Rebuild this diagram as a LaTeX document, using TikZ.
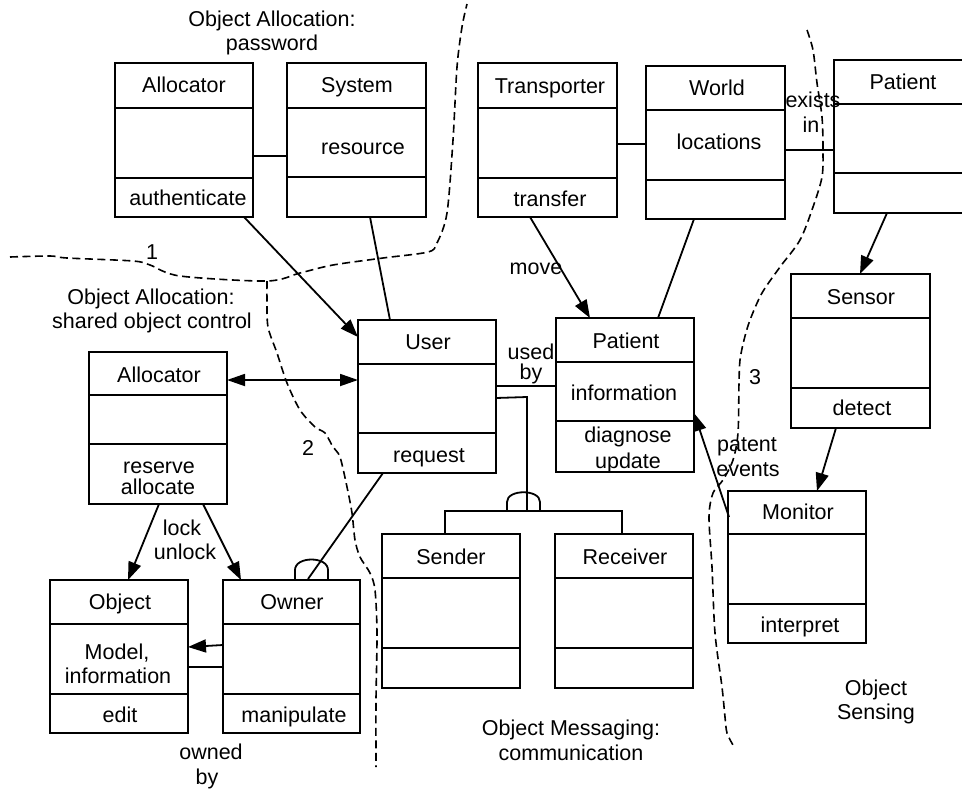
\documentclass[tikz,border=0pt]{standalone}
\usepackage{fontspec}
\setmainfont{Liberation Sans}
\usetikzlibrary{arrows.meta,calc}

\newcommand\lblfont{\fontsize{21.5}{24}\selectfont}

\tikzset{
  classbox/.style={draw, line width=2pt, inner sep=0pt, outer sep=0pt},
  divider/.style={line width=2pt},
  lbl/.style={inner sep=0pt, text height=15pt, text depth=0pt, font=\lblfont},
  link/.style={line width=1.8pt},
  arr/.style={link, -{Triangle[length=18pt,width=13pt]}},
  biarr/.style={link, {Triangle[length=18pt,width=12pt]}-{Triangle[length=18pt,width=12pt]}},
  region/.style={line width=1.6pt, dash pattern=on 8pt off 4.5pt},
}

% class box: name, left, top, right, bottom, first divider, second divider
\newcommand\umlclass[7]{%
  \node[classbox, minimum width={#4-#2}, minimum height={#5-#3}] (#1)
    at ({(#2+#4)/2},{(#3+#5)/2}) {};
  \draw[divider] ($(#1.north west)+(0,#6-#3)$) -- ($(#1.north east)+(0,#6-#3)$);
  \draw[divider] ($(#1.north west)+(0,#7-#3)$) -- ($(#1.north east)+(0,#7-#3)$);
}

\begin{document}
\begin{tikzpicture}[x=1pt,y=-1pt]
\fill[white] (0,0) rectangle (962,788);
\clip (0,0) rectangle (962,788);

% ---------- classes ----------
\umlclass{allocA}{115}{63}{253}{217}{108}{178}
\umlclass{system}{287}{63}{426}{217}{108}{177}
\umlclass{transp}{478}{63}{617}{217}{108}{178}
\umlclass{world}{646}{66}{785}{219}{110}{180}
\umlclass{patA}{834}{60}{973}{213}{104}{173}
\umlclass{sensor}{791}{274}{930}{428}{318}{388}
\umlclass{user}{358}{320}{496}{473}{364}{433}
\umlclass{patB}{556}{318}{694}{472}{362}{421}
\umlclass{allocB}{89}{352}{227}{504}{395}{444}
\umlclass{object}{50}{580}{188}{733}{624}{694}
\umlclass{owner}{223}{580}{360}{733}{624}{694}
\umlclass{sender}{382}{534}{520}{688}{578}{648}
\umlclass{receiver}{555}{534}{693}{688}{578}{648}
\umlclass{monitor}{728}{491}{866}{643}{534}{604}

% ---------- class texts ----------
\node[lbl] (allocAname) at (184,85) {Allocator};
\node[lbl] (allocAop)   at (188,198) {authenticate};
\node[lbl] (systemname) at (357,85) {System};
\node[lbl] (systemattr) at (363,147) {resource};
\node[lbl] (transpname) at (550,86) {Transporter};
\node[lbl] (transpop)   at (550,199) {transfer};
\node[lbl] (worldname)  at (717,88) {World};
\node[lbl] (worldattr)  at (719,142) {locations};
\node[lbl] (patAname)   at (903,82) {Patient};
\node[lbl] (sensorname) at (861,297) {Sensor};
\node[lbl] (sensorop)   at (862,408) {detect};
\node[lbl] (username)   at (428,342) {User};
\node[lbl] (userop)     at (429,455) {request};
\node[lbl] (patBname)   at (626,341) {Patient};
\node[lbl] (patBattr)   at (624,393) {information};
\node[lbl] (patBopA)    at (628,435) {diagnose};
\node[lbl] (patBopB)    at (628,461) {update};
\node[lbl] (allocBname) at (159,375) {Allocator};
\node[lbl] (allocBopA)  at (159,466) {reserve};
\node[lbl] (allocBopB)  at (158,487) {allocate};
\node[lbl] (objectname) at (120,602) {Object};
\node[lbl] (objectattrA) at (117,652) {Model,};
\node[lbl] (objectattrB) at (118,676) {information};
\node[lbl] (objectop)   at (120,715) {edit};
\node[lbl] (ownername)  at (292,602) {Owner};
\node[lbl] (ownerop)    at (294,715) {manipulate};
\node[lbl] (sendername) at (451,557) {Sender};
\node[lbl] (receivername) at (625,557) {Receiver};
\node[lbl] (monitorname) at (798,512) {Monitor};
\node[lbl] (monitorop)  at (800,625) {interpret};

% ---------- connectors ----------
\draw[link] ($(allocA.north east)+(0,93)$) -- ($(system.north west)+(0,93)$);
\draw[link] ($(transp.north east)+(0,81)$) -- ($(world.north west)+(0,78)$);
\draw[link] ($(world.north east)+(0,84)$) -- ($(patA.north west)+(0,90)$);
\draw[arr]  ($(allocA.south west)+(129,0)$) -- ($(user.north west)+(0,17)$);
\draw[link] ($(system.south west)+(83,0)$) -- ($(user.north west)+(32,0)$);
\draw[arr]  ($(transp.south west)+(52,0)$) -- ($(patB.north west)+(34,0)$);
\draw[link] ($(world.south west)+(48,0)$) -- ($(patB.north west)+(102,0)$);
\draw[arr]  ($(patA.south west)+(53,0)$) -- ($(sensor.north west)+(69,0)$);
\draw[arr]  ($(sensor.south west)+(45,0)$) -- ($(monitor.north west)+(89,0)$);
\draw[arr]  ($(monitor.north west)+(1,26)$) -- ($(patB.north east)+(0,95)$);
\draw[biarr] ($(allocB.north east)+(0,28)$) -- ($(user.north west)+(0,60)$);
\draw[link] ($(user.north east)+(0,66)$) -- ($(patB.north west)+(0,68)$);
\draw[arr]  ($(allocB.south west)+(70,0)$) -- ($(object.north west)+(78,0)$);
\draw[arr]  ($(allocB.south west)+(114,0)$) -- ($(owner.north west)+(18,0)$);
\draw[arr]  ($(owner.north west)+(0,65)$) -- ($(object.north east)+(0,67)$);
\draw[link] ($(object.north east)+(0,87)$) -- ($(owner.north west)+(0,87)$);

% generalization of User into Sender and Receiver
\coordinate (genbar) at ($(sender.north west)+(145,-23)$);
\draw[link] ($(user.north east)+(0,78)$) -- ($(user.north east)+(31,77)$) -- (genbar);
\draw[link] ($(sender.north west)+(63,0)$) |- ($(receiver.north west)+(67,-23)$)
  -- ($(receiver.north west)+(67,0)$);
\draw[link] ($(genbar)+(-20,0)$) -- ($(genbar)+(-20,-9)$)
  .. controls ($(genbar)+(-20,-22)$) and ($(genbar)+(13,-22)$) .. ($(genbar)+(13,-9)$)
  -- ($(genbar)+(13,0)$);

% User plays the Owner role
\draw[link] ($(user.south west)+(25,0)$) -- ($(owner.north west)+(85,-1)$);
\draw[link] ($(owner.north west)+(72,0)$) -- ($(owner.north west)+(72,-10)$)
  .. controls ($(owner.north west)+(72,-24)$) and ($(owner.north west)+(105,-24)$) .. ($(owner.north west)+(105,-10)$)
  -- ($(owner.north west)+(105,0)$);

% ---------- association labels ----------
\node[lbl] (moveL)   at (536,267) {move};
\node[lbl] (existsL) at (813,100) {exists};
\node[lbl] (inL)     at (811,125) {in};
\node[lbl] (usedL)   at (531,352) {used};
\node[lbl] (byL)     at (531,372) {by};
\node[lbl] (lockL)   at (182,528) {lock};
\node[lbl] (unlockL) at (185,552) {unlock};
\node[lbl] (ownedL)  at (211,752) {owned};
\node[lbl] (ownedbyL) at (207,777) {by};
\node[lbl] (patentL) at (747,444) {patent};
\node[lbl] (eventsL) at (748,469) {events};

% ---------- pattern regions ----------
\draw[region] plot[smooth, tension=0.5] coordinates {(10,257) (50,256) (67,258) (133,261)
  (150,265) (180,276) (267,281) (300,273) (333,265) (383,258) (428,252) (437,243)
  (447,213) (453,140) (457,67) (462,27) (467,4)};
\draw[region] plot[smooth, tension=0.5] coordinates {(267,281) (267,300) (268,327)
  (277,353) (287,383) (300,410) (315,427) (325,433) (333,447) (340,457) (347,487)
  (352,513) (355,540) (360,557) (370,573) (375,590) (377,633) (376,700) (376,767)};
\draw[region] plot[smooth, tension=0.5] coordinates {(807,30) (813,50) (817,83) (822,117)
  (823,150) (822,177) (813,207) (800,240) (780,267) (762,293) (750,320) (744,340)
  (740,360) (739,383) (738,433) (733,460) (723,480) (713,493) (709,517) (712,567)
  (715,633) (722,687) (725,717) (727,733) (733,745)};

\node[lbl] (reg1) at (152,252) {1};
\node[lbl] (reg2) at (308,448) {2};
\node[lbl] (reg3) at (755,377) {3};

\node[lbl] (pwdA) at (272,19) {Object Allocation:};
\node[lbl] (pwdB) at (272,43) {password};
\node[lbl] (socA) at (151,297) {Object Allocation:};
\node[lbl] (socB) at (152,321) {shared object control};
\node[lbl] (msgA) at (571,728) {Object Messaging:};
\node[lbl] (msgB) at (571,753) {communication};
\node[lbl] (senA) at (876,688) {Object};
\node[lbl] (senB) at (876,712) {Sensing};
\end{tikzpicture}
\end{document}
